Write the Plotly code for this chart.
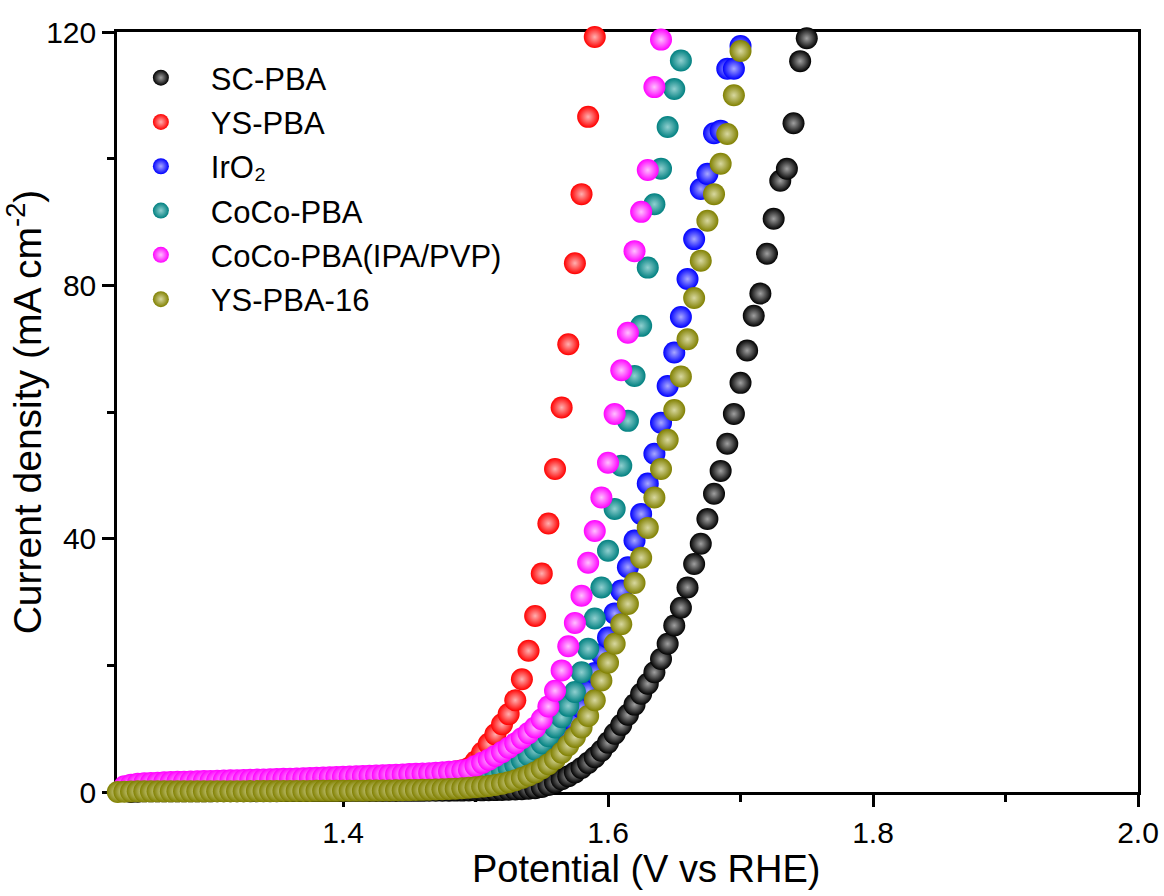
import plotly.graph_objects as go

# Shared potential grid (V vs RHE)
potential = [
    1.230, 1.235, 1.240, 1.245, 1.250, 1.255, 1.260, 1.265, 1.270, 1.275,
    1.280, 1.285, 1.290, 1.295, 1.300, 1.305, 1.310, 1.315, 1.320, 1.325,
    1.330, 1.335, 1.340, 1.345, 1.350, 1.355, 1.360, 1.365, 1.370, 1.375,
    1.380, 1.385, 1.390, 1.395, 1.400, 1.405, 1.410, 1.415, 1.420, 1.425,
    1.430, 1.435, 1.440, 1.445, 1.450, 1.455, 1.460, 1.465, 1.470, 1.475,
    1.480, 1.485, 1.490, 1.495, 1.500, 1.505, 1.510, 1.515, 1.520, 1.525,
    1.530, 1.535, 1.540, 1.545, 1.550, 1.555, 1.560, 1.565, 1.570, 1.575,
    1.580, 1.585, 1.590, 1.595, 1.600, 1.605, 1.610, 1.615, 1.620, 1.625,
    1.630, 1.635, 1.640, 1.645, 1.650, 1.655, 1.660, 1.665, 1.670, 1.675,
    1.680, 1.685, 1.690, 1.695, 1.700, 1.705, 1.710, 1.715, 1.720, 1.725,
    1.730, 1.735, 1.740, 1.745, 1.750,
]

sc_pba = [
    -0.8, -0.2, 0.0, 0.05, 0.1, 0.1, 0.1, 0.1, 0.1, 0.1,
    0.1, 0.1, 0.1, 0.1, 0.1, 0.12, 0.12, 0.12, 0.12, 0.12,
    0.12, 0.12, 0.12, 0.12, 0.12, 0.14, 0.14, 0.14, 0.14, 0.14,
    0.14, 0.14, 0.14, 0.14, 0.14, 0.16, 0.16, 0.16, 0.16, 0.16,
    0.16, 0.16, 0.16, 0.18, 0.18, 0.18, 0.18, 0.2, 0.2, 0.2,
    0.2, 0.22, 0.22, 0.24, 0.25, 0.26, 0.28, 0.3, 0.33, 0.36,
    0.4, 0.45, 0.52, 0.6, 0.8, 1.1, 1.5, 2.0, 2.5, 3.1,
    3.8, 4.6, 5.5, 6.5, 7.8, 9.2, 10.6, 12.2, 13.8, 15.5,
    17.1, 18.9, 21.0, 23.4, 26.3, 29.1, 32.3, 36.0, 39.2, 43.1,
    47.1, 50.7, 55.0, 59.7, 64.6, 69.7, 75.2, 78.7, 85.0, 90.5,
    96.5, 98.4, 105.6, 115.4, 119.0,
]

ys_pba = [
    -0.5, 0.6, 0.9, 1.05, 1.15, 1.2, 1.24, 1.28, 1.32, 1.36,
    1.39, 1.42, 1.45, 1.48, 1.51, 1.54, 1.57, 1.6, 1.63, 1.66,
    1.69, 1.72, 1.75, 1.78, 1.81, 1.84, 1.87, 1.9, 1.94, 1.98,
    2.02, 2.06, 2.1, 2.14, 2.18, 2.22, 2.26, 2.3, 2.34, 2.38,
    2.42, 2.46, 2.5, 2.54, 2.59, 2.64, 2.7, 2.76, 2.84, 2.94,
    3.06, 3.22, 3.45, 3.8, 4.8, 6.2, 7.6, 9.1, 10.7, 12.3,
    14.5, 17.8, 22.3, 27.8, 34.5, 42.4, 51.0, 60.7, 70.7, 83.5,
    94.4, 106.6, 119.2,
]

iro2 = [
    -0.4, 0.2, 0.3, 0.32, 0.34, 0.36, 0.38, 0.4, 0.42, 0.44,
    0.45, 0.46, 0.47, 0.48, 0.49, 0.5, 0.51, 0.52, 0.53, 0.54,
    0.55, 0.56, 0.57, 0.58, 0.59, 0.6, 0.61, 0.62, 0.63, 0.64,
    0.65, 0.66, 0.67, 0.68, 0.69, 0.7, 0.71, 0.72, 0.73, 0.74,
    0.75, 0.76, 0.78, 0.8, 0.82, 0.84, 0.86, 0.88, 0.9, 0.93,
    0.96, 1.0, 1.05, 1.1, 1.2, 1.3, 1.45, 1.6, 1.8, 2.05,
    2.35, 2.7, 3.15, 3.7, 4.4, 5.2, 6.2, 7.4, 8.8, 11.0,
    13.3, 16.0, 18.8, 21.8, 24.4, 28.2, 31.8, 35.5, 39.7, 43.9,
    48.7, 53.4, 58.3, 64.1, 69.4, 75.0, 81.0, 87.3, 95.2, 97.6,
    104.0, 104.4, 114.2, 114.2, 117.8,
]

coco_pba = [
    -0.3, 0.3, 0.4, 0.45, 0.5, 0.52, 0.54, 0.56, 0.58, 0.6,
    0.62, 0.64, 0.66, 0.68, 0.7, 0.72, 0.74, 0.76, 0.78, 0.8,
    0.82, 0.84, 0.86, 0.88, 0.9, 0.92, 0.94, 0.96, 0.98, 1.0,
    1.02, 1.04, 1.06, 1.08, 1.1, 1.12, 1.14, 1.16, 1.18, 1.2,
    1.23, 1.26, 1.29, 1.32, 1.36, 1.4, 1.45, 1.5, 1.56, 1.63,
    1.72, 1.83, 1.96, 2.12, 2.3, 2.5, 2.75, 3.0, 3.35, 3.8,
    4.3, 5.0, 5.8, 6.7, 7.7, 8.8, 10.2, 11.8, 13.6, 15.8,
    18.9, 22.6, 27.4, 32.3, 38.1, 44.7, 51.5, 58.6, 65.7, 73.6,
    82.8, 92.8, 98.4, 105.0, 111.0, 115.5,
]

coco_pba_ipa_pvp = [
    -1.8, 0.9, 1.15, 1.3, 1.4, 1.44, 1.48, 1.52, 1.56, 1.6,
    1.63, 1.66, 1.69, 1.72, 1.75, 1.78, 1.81, 1.84, 1.87, 1.9,
    1.93, 1.96, 1.99, 2.02, 2.05, 2.08, 2.11, 2.14, 2.18, 2.22,
    2.26, 2.3, 2.34, 2.38, 2.42, 2.46, 2.5, 2.54, 2.58, 2.62,
    2.66, 2.7, 2.74, 2.78, 2.83, 2.88, 2.93, 2.98, 3.04, 3.1,
    3.18, 3.28, 3.4, 3.56, 4.1, 4.6, 5.1, 5.7, 6.3, 7.0,
    7.7, 8.5, 9.3, 10.2, 11.5, 13.5, 16.0, 19.2, 23.0, 26.7,
    31.0, 36.2, 41.2, 46.5, 52.0, 59.7, 66.6, 72.5, 85.4, 91.6,
    98.2, 111.3, 118.8,
]

ys_pba_16 = [
    0.0, 0.05, 0.08, 0.1, 0.1, 0.1, 0.1, 0.1, 0.1, 0.1,
    0.1, 0.1, 0.1, 0.1, 0.12, 0.12, 0.12, 0.12, 0.12, 0.12,
    0.14, 0.14, 0.14, 0.14, 0.14, 0.16, 0.16, 0.16, 0.16, 0.16,
    0.18, 0.18, 0.18, 0.18, 0.2, 0.2, 0.2, 0.2, 0.22, 0.22,
    0.24, 0.24, 0.26, 0.28, 0.3, 0.32, 0.34, 0.37, 0.4, 0.44,
    0.48, 0.53, 0.6, 0.68, 0.75, 0.85, 0.95, 1.1, 1.3, 1.55,
    1.85, 2.2, 2.6, 3.1, 3.7, 4.4, 5.2, 6.2, 7.4, 8.7,
    10.2, 12.0, 14.5, 17.6, 20.4, 23.4, 26.5, 29.7, 33.0, 37.0,
    41.7, 46.5, 51.0, 55.6, 60.3, 65.6, 71.5, 78.0, 83.9, 90.2,
    94.4, 99.2, 103.9, 110.0, 117.0,
]

series_names = ["SC-PBA", "YS-PBA", "IrO₂", "CoCo-PBA", "CoCo-PBA(IPA/PVP)", "YS-PBA-16"]
series_values = [sc_pba, ys_pba, iro2, coco_pba, coco_pba_ipa_pvp, ys_pba_16]
series_colors = ["#000000", "#ff0000", "#0000ff", "#008080", "#ff00ff", "#808000"]
highlight_colors = ["#a0a0a0", "#ffb0b0", "#a8a8ff", "#90d0d0", "#ffc0ff", "#d8d8a0"]

FONT = "Liberation Sans, Arial, sans-serif"

fig = go.Figure()
for name, vals, col, hl in zip(series_names, series_values, series_colors, highlight_colors):
    fig.add_trace(go.Scatter(
        x=potential[:len(vals)], y=vals, mode="markers", name=name,
        legendgroup=name, cliponaxis=False,
        marker=dict(size=22, color=col, line=dict(width=0),
                    gradient=dict(type="radial", color=hl)),
    ))

axis_common = dict(
    showline=True, linewidth=2.5, linecolor="black", mirror=True,
    ticks="outside", tickwidth=2.5, tickcolor="black", ticklen=12,
    showgrid=False, zeroline=False, layer="below traces", automargin=False,
    tickfont=dict(family=FONT, size=30, color="black"),
)

fig.update_layout(
    width=1164, height=896,
    margin=dict(l=117, r=26, t=32, b=104),
    paper_bgcolor="white", plot_bgcolor="white",
    font=dict(family=FONT, color="black"),
    xaxis=dict(
        range=[1.2294, 2.0], tickvals=[1.4, 1.6, 1.8, 2.0],
        ticktext=["1.4", "1.6", "1.8", "2.0"],
        minor=dict(tickvals=[1.3, 1.5, 1.7, 1.9], ticks="outside", ticklen=7,
                   tickwidth=2.5, tickcolor="black"),
        **axis_common,
    ),
    yaxis=dict(
        range=[0, 120], tickvals=[0, 40, 80, 120],
        minor=dict(tickvals=[20, 60, 100], ticks="outside", ticklen=7,
                   tickwidth=2.5, tickcolor="black"),
        title=dict(text="Current density (mA cm<sup>-2</sup>)", font=dict(family=FONT, size=39), standoff=0),
        **axis_common,
    ),
    annotations=[dict(
        text="Potential (V vs RHE)", xref="paper", yref="paper",
        x=0.5186, y=-0.101, xanchor="center", yanchor="middle", showarrow=False,
        font=dict(family=FONT, size=38, color="black"),
    )],
    legend=dict(
        x=-0.006, y=0.975, xanchor="left", yanchor="top",
        bgcolor="rgba(0,0,0,0)", borderwidth=0,
        font=dict(family=FONT, size=31, color="black"),
        tracegroupgap=1, traceorder="grouped", itemwidth=90,
    ),
    showlegend=True,
)

fig.write_html(
    "out.html",
    config={"displayModeBar": False},
    post_script="document.body.style.margin='0';document.body.style.padding='0';",
)
